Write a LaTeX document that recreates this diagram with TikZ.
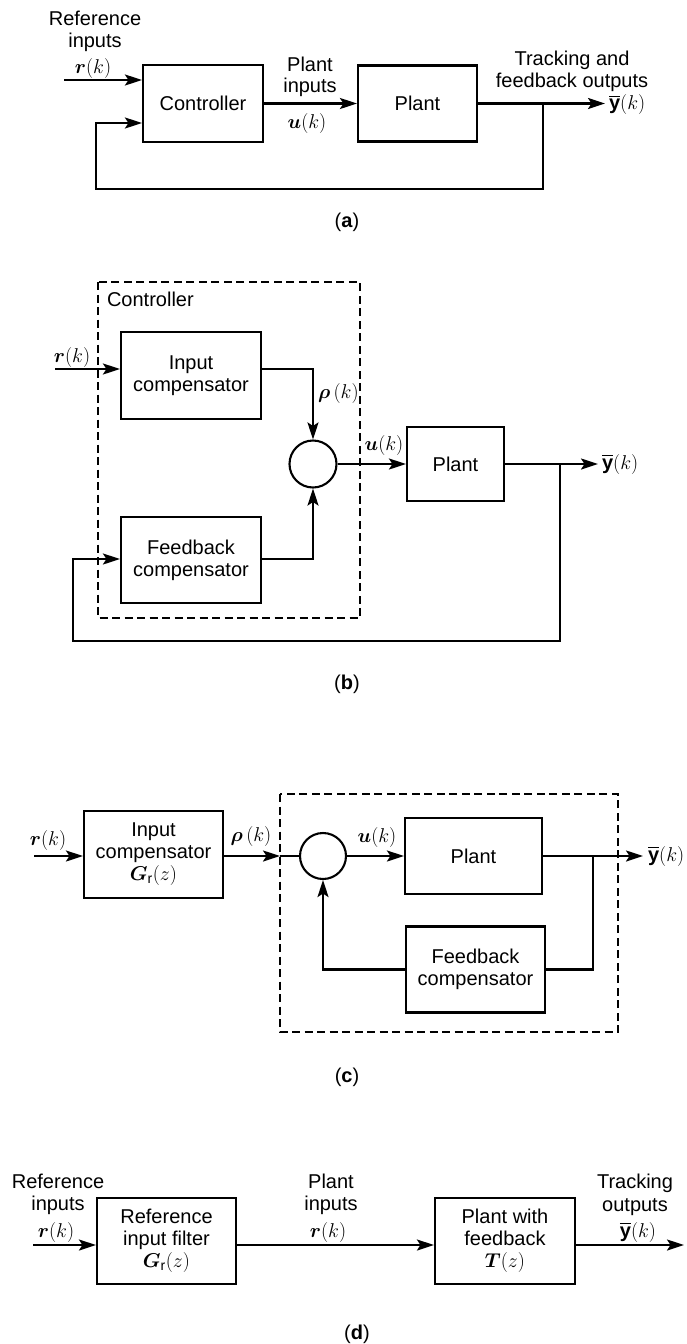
\RequirePackage{fix-cm}
\documentclass[tikz,border=0pt]{standalone}
\usepackage{amsmath}
\usepackage{bm}
\usepackage{fontspec}
\setmainfont{Liberation Sans}
\usetikzlibrary{arrows.meta}
\newcommand{\ybar}{\overline{\mathbf{y}}}

\begin{document}
\begin{tikzpicture}[x=1pt,y=-1pt,
  font=\fontsize{20}{22}\selectfont,
  line width=2.1pt,
  blk/.style={draw, rectangle, align=center, inner sep=0pt},
  sumc/.style={draw, circle, minimum size=47pt, inner sep=0pt},
  lbl/.style={anchor=base, inner sep=0pt},
  arr/.style={-{Stealth[length=17pt,width=11pt,inset=3.5pt]}},
  dbox/.style={draw, dash pattern=on 8pt off 4.5pt},
  outlbl/.style={anchor=west, inner sep=0pt}
]
\useasboundingbox (0,0) rectangle (686,1344);

% ---------------- (a) ----------------
\node[blk, minimum width=120pt, minimum height=77pt] (ctrlA) at (203,103.5) {Controller};
\node[blk, minimum width=119pt, minimum height=76pt] (plantA) at (417.5,103.5) {Plant};
\coordinate (rinA) at (64,80);
\draw[arr] (rinA) -- (rinA -| ctrlA.west);
\node[lbl] (refA1) at (95,25) {Reference};
\node[lbl] (refA2) at (95,47) {inputs};
\node[lbl] (refA3) at (93,73) {$\bm{r}(k)$};
\draw[arr] (ctrlA.east) -- (plantA.west);
\node[lbl] (piA1) at (310,71) {Plant};
\node[lbl] (piA2) at (310,92) {inputs};
\node[lbl] (piA3) at (307,128) {$\bm{u}(k)$};
\coordinate (outA) at (605,103.5);
\draw[arr] (plantA.east) -- (outA);
\node[outlbl] (yA) at (608,104.5) {$\ybar(k)$};
\node[lbl] (trA1) at (572,65) {Tracking and};
\node[lbl] (trA2) at (572,87) {feedback outputs};
\coordinate (brA) at (543,103.5);
\coordinate (fbcA) at (543,189);
\coordinate (fbA) at (96,123);
\draw[arr] (brA) -- (fbcA) -| (fbA) -- (fbA -| ctrlA.west);
\node[lbl] (capA) at (347,227) {(\textbf{a})};

% ---------------- (b) ----------------
\draw[dbox] (98,282) rectangle (360,618);
\node[anchor=base west, inner sep=0pt] (ctrlB) at (106,306) {Controller};
\node[blk, minimum width=140pt, minimum height=87pt] (icB) at (191,375.5) {Input\\compensator};
\node[blk, minimum width=140pt, minimum height=86pt] (fcB) at (191,560) {Feedback\\compensator};
\node[sumc] (sB) at (313,464) {};
\node[blk, minimum width=97pt, minimum height=74pt] (plB) at (455.5,464) {Plant};
\coordinate (rinB) at (55,369);
\draw[arr] (rinB) -- (rinB -| icB.west);
\node[lbl] (rB) at (72,362) {$\bm{r}(k)$};
\draw[arr] (icB.east |- rinB) -| (sB.north);
\node[anchor=base west, inner sep=0pt] (rhoB) at (317,398) {$\bm{\rho}\,(k)$};
\coordinate (fboB) at (261,559);
\draw[arr] (fboB) -| (sB.south);
\draw[arr] (sB.east) -- (plB.west);
\node[lbl] (uB) at (384,450) {$\bm{u}(k)$};
\coordinate (outB) at (598,464);
\draw[arr] (plB.east) -- (outB);
\node[outlbl] (yB) at (601,464) {$\ybar(k)$};
\coordinate (brB) at (560,464);
\coordinate (botB) at (560,641);
\coordinate (fbB) at (73,559);
\draw[arr] (brB) -- (botB) -| (fbB) -- (fbB -| fcB.west);
\node[lbl] (capB) at (347,689) {(\textbf{b})};

% ---------------- (c) ----------------
\node[blk, minimum width=139pt, minimum height=87pt] (icC) at (153.5,854.5) {Input\\compensator\\$\bm{G}_{\text{r}}(z)$};
\coordinate (rinC) at (34,856);
\draw[arr] (rinC) -- (rinC -| icC.west);
\node[lbl] (rC) at (48,845) {$\bm{r}(k)$};
\draw[dbox] (280,794) rectangle (618,1032);
\coordinate (dinC) at (280,856);
\draw[arr] (icC.east |- dinC) -- (dinC);
\node[lbl] (rhoC) at (251,841) {$\bm{\rho}\,(k)$};
\node[sumc, minimum size=46pt] (sC) at (323,856) {};
\draw (dinC) -- (sC.west);
\node[blk, minimum width=137pt, minimum height=76pt] (plC) at (473.5,856) {Plant};
\draw[arr] (sC.east) -- (plC.west);
\node[lbl] (uC) at (377,842) {$\bm{u}(k)$};
\coordinate (outC) at (643,856);
\draw[arr] (plC.east) -- (outC);
\node[outlbl] (yC) at (647,856) {$\ybar(k)$};
\node[blk, minimum width=139pt, minimum height=86pt] (fcC) at (475.5,969.5) {Feedback\\compensator};
\coordinate (brC) at (593,856);
\draw (brC) |- (fcC.east);
\draw[arr] (fcC.west) -| (sC.south);
\node[lbl] (capC) at (347,1082) {(\textbf{c})};

% ---------------- (d) ----------------
\node[blk, minimum width=139pt, minimum height=86pt] (rfD) at (166.5,1241) {Reference\\input filter\\$\bm{G}_{\text{r}}(z)$};
\node[blk, minimum width=140pt, minimum height=86pt] (pfD) at (505,1241) {Plant with\\feedback\\$\bm{T}(z)$};
\coordinate (rinD) at (33,1245);
\draw[arr] (rinD) -- (rinD -| rfD.west);
\node[lbl] (refD1) at (58,1188) {Reference};
\node[lbl] (refD2) at (58,1210) {inputs};
\node[lbl] (refD3) at (56,1237) {$\bm{r}(k)$};
\draw[arr] (rfD.east |- rinD) -- (rinD -| pfD.west);
\node[lbl] (piD1) at (331,1188) {Plant};
\node[lbl] (piD2) at (331,1210) {inputs};
\node[lbl] (piD3) at (328,1237) {$\bm{r}(k)$};
\coordinate (outD) at (684,1245);
\draw[arr] (pfD.east |- rinD) -- (outD);
\node[lbl] (trD1) at (635,1188) {Tracking};
\node[lbl] (trD2) at (635,1211) {outputs};
\node[lbl] (trD3) at (638,1237) {$\ybar(k)$};
\node[lbl] (capD) at (357,1339) {(\textbf{d})};
\end{tikzpicture}
\end{document}
